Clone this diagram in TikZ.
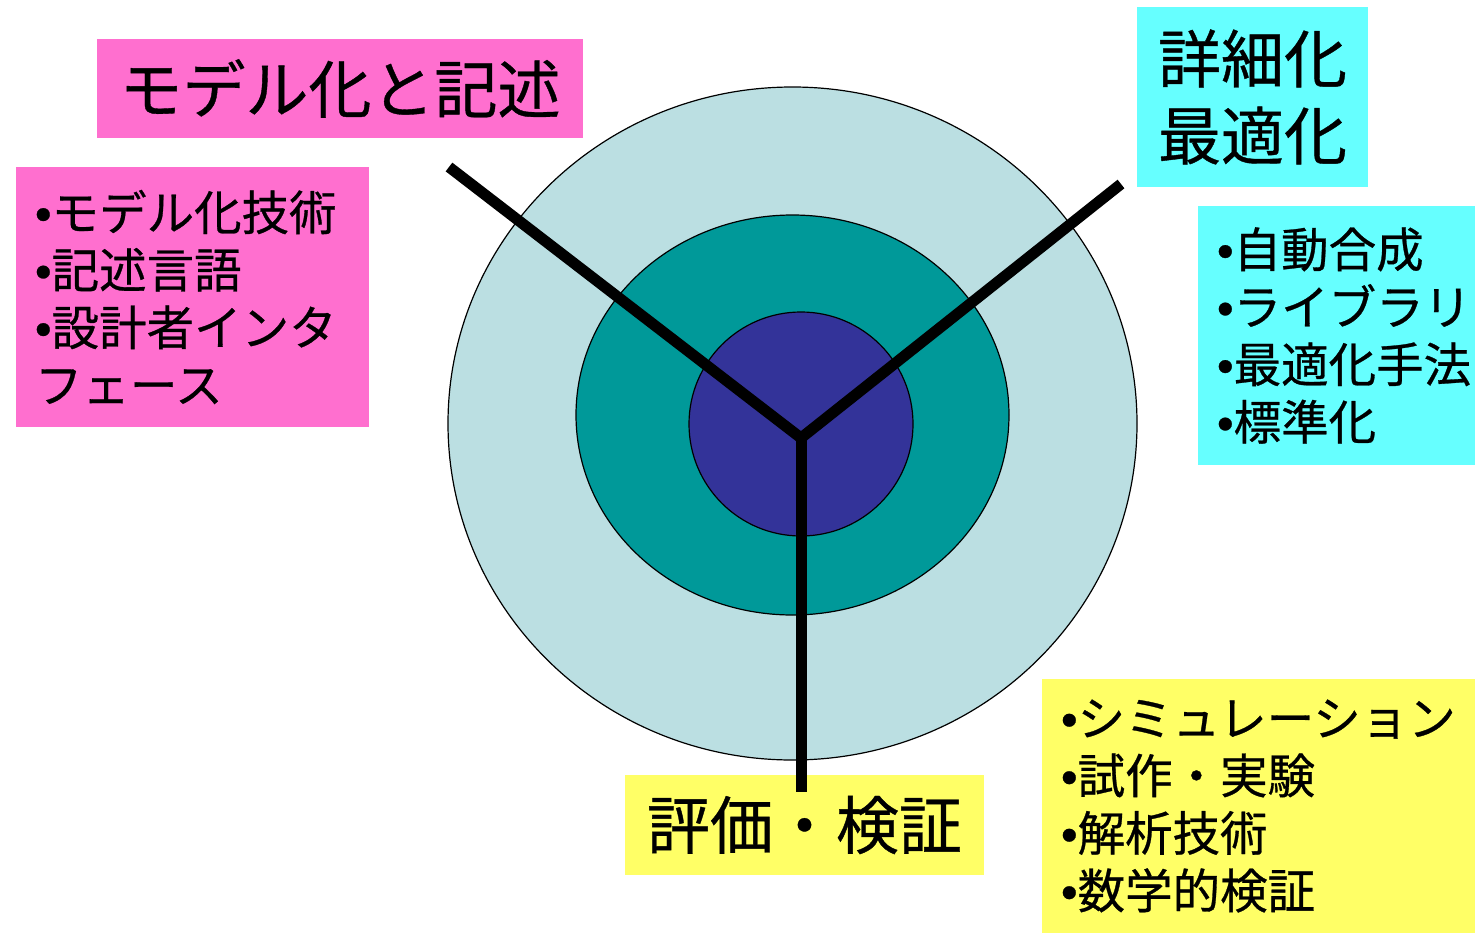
\documentclass[tikz,border=0pt]{standalone}
\usepackage{fontspec}
\setmainfont{Noto Sans CJK JP}[FakeBold=0.6]
\newfontfamily\bulfont{Liberation Sans}[FakeBold=0.6]
\newcommand\bu{{\bulfont •}}
\definecolor{pinkbox}{HTML}{FF6FCF}
\definecolor{cyanbox}{HTML}{66FFFF}
\definecolor{yellowbox}{HTML}{FFFF66}
\definecolor{outerc}{HTML}{BBDFE2}
\definecolor{midc}{HTML}{009999}
\definecolor{innerc}{HTML}{333399}
\begin{document}
\begin{tikzpicture}[x=1pt,y=-1pt,
  box/.style={rectangle, inner sep=0pt, draw=none},
  titlebox/.style={box, align=center, font=\fontsize{63}{77}\selectfont},
  listbox/.style={box, align=left, inner xsep=19pt, font=\fontsize{47.5}{57.5}\selectfont},
  ring/.style={draw=black, line width=1.2pt},
  spoke/.style={draw=black, line width=11pt, line cap=butt, line join=miter}]
\useasboundingbox (0,0) rectangle (1475,934);
% boxes
\node[titlebox, fill=pinkbox, minimum width=486pt, minimum height=99pt] (tM) at (340,88.5) {モデル化と記述};
\node[listbox, fill=pinkbox, minimum height=260pt, text width=315pt] (lM) at (192.5,297) {\bu モデル化技術\\\bu 記述言語\\\bu 設計者インタ\\フェース};
\node[titlebox, fill=cyanbox, minimum width=231pt, minimum height=180pt] (tS) at (1252.5,97) {詳細化\\最適化};
\node[listbox, fill=cyanbox, minimum height=259pt, text width=239pt] (lS) at (1336.5,335.5) {\bu 自動合成\\\bu ライブラリ\\\bu 最適化手法\\\bu 標準化};
\node[titlebox, fill=yellowbox, minimum width=359pt, minimum height=100pt] (tE) at (804.5,825) {評価・検証};
\node[listbox, fill=yellowbox, minimum height=254pt, text width=395pt] (lE) at (1258.5,806) {\bu シミュレーション\\\bu 試作・実験\\\bu 解析技術\\\bu 数学的検証};
% rings
\draw[ring, fill=outerc] (792.5,423.5) ellipse [x radius=344.5pt, y radius=336.5pt];
\draw[ring, fill=midc] (792.5,415) ellipse [x radius=216.5pt, y radius=200pt];
\draw[ring, fill=innerc] (801,424) ellipse [x radius=112pt, y radius=112pt];
% spokes
\coordinate (hub) at (801,438);
\coordinate (endM) at (449,167);
\coordinate (endS) at (1121,184);
\coordinate (endE) at (801,792);
\draw[spoke] (endM) -- (hub) -- (endS);
\draw[spoke] (hub) -- (endE);
\end{tikzpicture}
\end{document}
